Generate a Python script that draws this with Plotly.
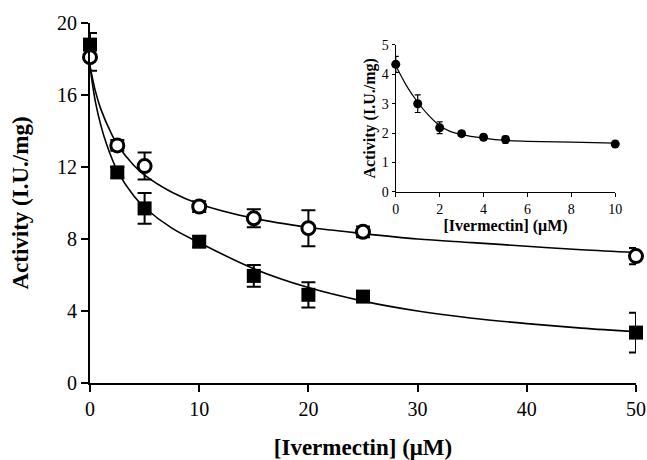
import plotly.graph_objects as go

# ---- main panel data ----
conc = [0, 2.5, 5, 10, 15, 20, 25, 50]
open_vals = [18.1, 13.2, 12.05, 9.8, 9.15, 8.6, 8.4, 7.05]
open_err = [0.75, 0.3, 0.75, 0.3, 0.5, 1.0, 0.3, 0.45]
filled_vals = [18.8, 11.7, 9.7, 7.85, 5.95, 4.9, 4.8, 2.8]
filled_err = [0.65, 0.3, 0.85, 0.3, 0.6, 0.7, 0.3, 1.1]

# fitted curves
open_fit_x = [0, 0.5, 1, 2, 2.5, 4, 5, 7.5, 10, 15, 20, 25, 30, 35, 40, 45, 50]
open_fit_y = [17.6, 16.2, 15.2, 13.8, 13.25, 12.1, 11.55, 10.6, 9.95, 9.15, 8.65, 8.3, 8.0, 7.8, 7.6, 7.4, 7.25]
filled_fit_x = [0, 0.5, 1, 1.5, 2.5, 4, 5, 7.5, 10, 15, 20, 25, 30, 35, 40, 45, 50]
filled_fit_y = [17.6, 15.6, 14.3, 13.3, 11.8, 10.4, 9.75, 8.6, 7.8, 6.35, 5.3, 4.55, 4.0, 3.6, 3.3, 3.05, 2.85]

# ---- inset data ----
inset_conc = [0, 1, 2, 3, 4, 5, 10]
inset_vals = [4.34, 3.0, 2.18, 1.98, 1.86, 1.78, 1.63]
inset_err = [0.27, 0.3, 0.2, 0.08, 0.1, 0.12, 0.05]
inset_fit_x = [0, 0.5, 1, 1.5, 2, 2.5, 3, 4, 5, 6, 8, 10]
inset_fit_y = [4.3, 3.6, 3.05, 2.6, 2.25, 2.05, 1.95, 1.83, 1.75, 1.72, 1.69, 1.66]

main_ticks_y = [0, 4, 8, 12, 16, 20]
main_ticks_x = [0, 10, 20, 30, 40, 50]
inset_ticks_y = [0, 1, 2, 3, 4, 5]
inset_ticks_x = [0, 2, 4, 6, 8, 10]

FONT = "Liberation Serif"
BLACK = "black"

fig = go.Figure()

fig.add_trace(go.Scatter(x=open_fit_x, y=open_fit_y, mode="lines", line=dict(color=BLACK, width=1.6, shape="spline"),
                         cliponaxis=False, hoverinfo="skip", showlegend=False))
fig.add_trace(go.Scatter(x=filled_fit_x, y=filled_fit_y, mode="lines", line=dict(color=BLACK, width=1.6, shape="spline"),
                         cliponaxis=False, hoverinfo="skip", showlegend=False))
fig.add_trace(go.Scatter(x=conc, y=filled_vals, mode="markers",
                         marker=dict(symbol="square", size=14, color=BLACK),
                         error_y=dict(type="data", array=filled_err, color=BLACK, thickness=2, width=7),
                         cliponaxis=False, showlegend=False))
fig.add_trace(go.Scatter(x=conc, y=open_vals, mode="markers",
                         marker=dict(symbol="circle", size=13, color="white", line=dict(color=BLACK, width=3)),
                         error_y=dict(type="data", array=open_err, color=BLACK, thickness=2, width=7),
                         cliponaxis=False, showlegend=False))

# inset
fig.add_trace(go.Scatter(x=inset_fit_x, y=inset_fit_y, mode="lines", line=dict(color=BLACK, width=1.2, shape="spline"),
                         xaxis="x2", yaxis="y2", cliponaxis=False, hoverinfo="skip", showlegend=False))
fig.add_trace(go.Scatter(x=inset_conc, y=inset_vals, mode="markers",
                         marker=dict(symbol="circle", size=9, color=BLACK),
                         error_y=dict(type="data", array=inset_err, color=BLACK, thickness=1.2, width=3),
                         xaxis="x2", yaxis="y2", cliponaxis=False, showlegend=False))

axis_common = dict(showline=True, linecolor=BLACK, showgrid=False, zeroline=False, ticks="outside",
                   tickcolor=BLACK, automargin=False)

fig.update_layout(
    width=647, height=460,
    margin=dict(l=90, r=11, t=23, b=77),
    paper_bgcolor="white", plot_bgcolor="white",
    font=dict(family=FONT, color=BLACK),
    xaxis=dict(**axis_common, range=[0, 50], tickvals=main_ticks_x, linewidth=2, tickwidth=2, ticklen=7,
               tickfont=dict(size=20, family=FONT),
               title=dict(text="<b>[Ivermectin] (μM)</b>", font=dict(size=23, family=FONT), standoff=20)),
    yaxis=dict(**axis_common, range=[0, 20], tickvals=main_ticks_y, linewidth=2, tickwidth=2, ticklen=7,
               tickfont=dict(size=20, family=FONT),
               title=dict(text="<b>Activity (I.U./mg)</b>", font=dict(size=23, family=FONT), standoff=22)),
    xaxis2=dict(**axis_common, domain=[0.560, 0.962], anchor="y2", range=[0, 10], tickvals=inset_ticks_x,
                linewidth=1.2, tickwidth=1.2, ticklen=4, tickfont=dict(size=14, family=FONT),
                title=dict(text="<b>[Ivermectin] (μM)</b>", font=dict(size=16, family=FONT), standoff=2)),
    yaxis2=dict(**axis_common, domain=[0.531, 0.939], anchor="x2", range=[0, 5], tickvals=inset_ticks_y,
                linewidth=1.2, tickwidth=1.2, ticklen=3, tickfont=dict(size=14, family=FONT),
                title=dict(text="<b>Activity (I.U./mg)</b>", font=dict(size=16, family=FONT), standoff=2)),
)

fig.write_html("out.html")
